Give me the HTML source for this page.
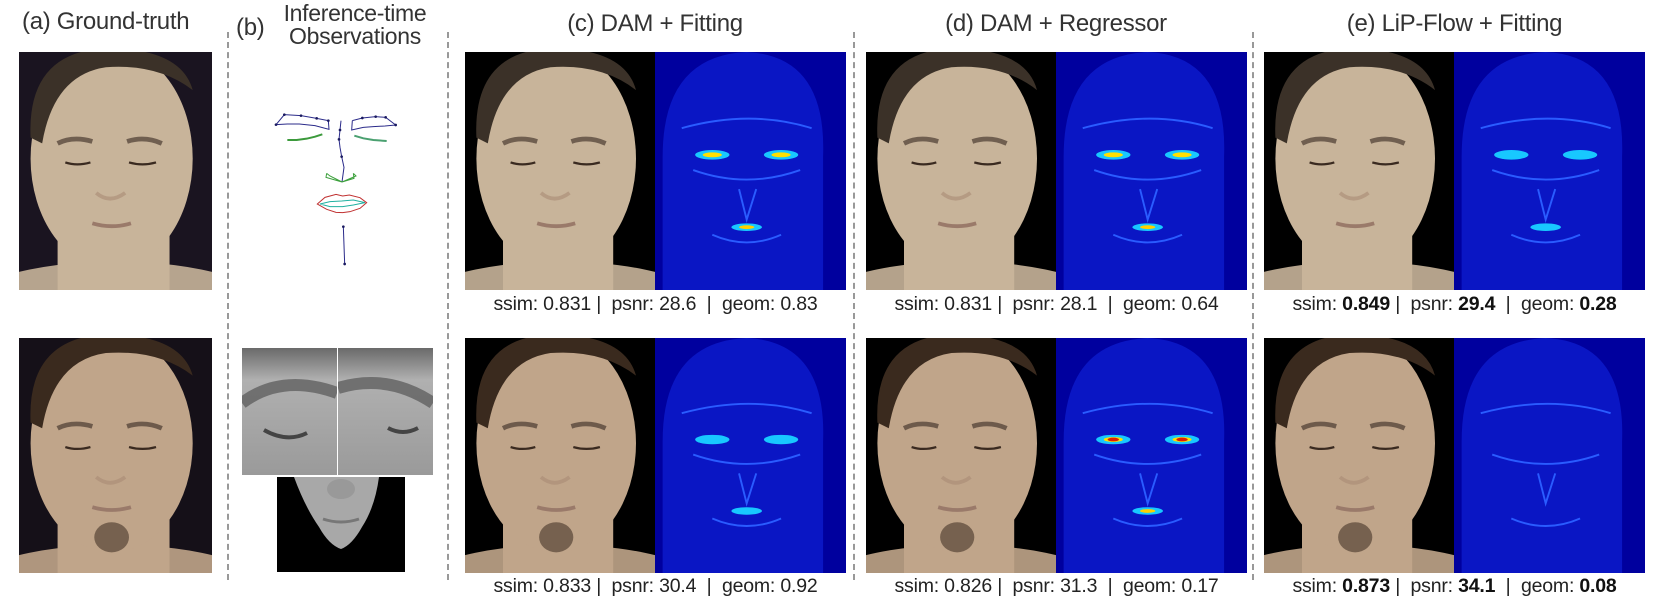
<!DOCTYPE html>
<html><head><meta charset="utf-8">
<style>
html,body{margin:0;padding:0;background:#fff;width:1659px;height:600px;overflow:hidden;}
body{position:relative;font-family:"Liberation Sans",sans-serif;color:#222;}
.title{position:absolute;font-size:24px;white-space:nowrap;color:#333;letter-spacing:-0.3px;}
.dash{position:absolute;width:0;border-left:2px dashed #999;top:32px;height:548px;}
.cap{position:absolute;font-size:19.5px;line-height:22px;white-space:nowrap;text-align:center;color:#222;letter-spacing:-0.2px;}
.cap b{font-weight:bold;color:#111;}
svg{position:absolute;display:block;}
</style></head>
<body>
<div class="title" style="left:22px;top:8px;">(a) Ground-truth</div>
<div class="title" style="left:236px;top:14px;">(b)</div>
<div class="title" style="left:272px;top:2px;font-size:23px;line-height:23px;text-align:center;width:166px;">Inference-time<br>Observations</div>
<div class="title" style="left:465px;top:10px;width:380px;text-align:center;">(c) DAM + Fitting</div>
<div class="title" style="left:866px;top:10px;width:380px;text-align:center;">(d) DAM + Regressor</div>
<div class="title" style="left:1264px;top:10px;width:381px;text-align:center;">(e) LiP-Flow + Fitting</div>

<div class="dash" style="left:227px;"></div>
<div class="dash" style="left:447px;"></div>
<div class="dash" style="left:853px;"></div>
<div class="dash" style="left:1252px;"></div>

<div id="panels"></div>

<svg style="left:230px;top:90px;" width="220" height="190" viewBox="0 0 660 570">
<g fill="none" stroke-width="3">
<polyline stroke="#2b2b8a" points="138,104 163,74 213,77 260,85 295,92 297,118 255,107 208,102 172,102 138,104"/>
<polyline stroke="#2b2b8a" points="367,92 397,84 437,80 467,82 497,105 465,108 430,110 400,112 365,120 367,92"/>
<polyline stroke="#3c9a3c" stroke-width="6" points="172,150 200,150 230,146 255,140 277,133"/>
<polyline stroke="#4aa070" stroke-width="6" points="373,137 400,145 430,150 470,153"/>
<polyline stroke="#2b2b8a" points="333,92 330,120 327,148 330,172 335,200 342,232 336,276"/>
<polyline stroke="#3ca03c" points="290,250 300,258 336,276 288,262 290,250"/>
<polyline stroke="#3ca03c" points="370,250 378,258 336,276 372,265 370,250"/>
<polygon stroke="#c03030" points="262,342 285,322 318,313 338,318 358,315 390,323 410,338 390,355 360,365 338,368 318,367 290,358"/>
<polygon stroke="#20b0a0" points="270,342 300,335 335,333 370,330 405,338 370,345 338,350 300,350"/>
<line stroke="#2b2b8a" x1="340" y1="410" x2="344" y2="522"/>
</g>
<g fill="#1a1a60">
<circle cx="163" cy="74" r="4"/><circle cx="213" cy="77" r="4"/><circle cx="260" cy="85" r="4"/><circle cx="295" cy="92" r="4"/><circle cx="138" cy="104" r="4"/>
<circle cx="397" cy="84" r="4"/><circle cx="437" cy="80" r="4"/><circle cx="467" cy="82" r="4"/><circle cx="497" cy="105" r="4"/>
<circle cx="330" cy="120" r="4"/><circle cx="327" cy="148" r="4"/><circle cx="335" cy="200" r="4"/><circle cx="340" cy="410" r="4"/><circle cx="344" cy="522" r="4"/>
</g>
</svg>

<svg style="left:242px;top:348px;" width="95" height="127" viewBox="0 0 95 127">
<defs><linearGradient id="eg" x1="0" y1="0" x2="0" y2="1"><stop offset="0" stop-color="#6a6a6a"/><stop offset="0.25" stop-color="#b0b0b0"/><stop offset="1" stop-color="#9a9a9a"/></linearGradient></defs>
<rect width="95" height="127" fill="url(#eg)"/>
<path d="M0 55 Q40 25 95 45" stroke="#555" stroke-width="12" fill="none" opacity="0.7"/>
<path d="M22 82 Q45 95 65 85" stroke="#444" stroke-width="4" fill="none"/>
</svg>
<svg style="left:338px;top:348px;" width="95" height="127" viewBox="0 0 95 127">
<rect width="95" height="127" fill="url(#eg)"/>
<path d="M0 40 Q50 25 95 55" stroke="#555" stroke-width="12" fill="none" opacity="0.7"/>
<path d="M50 80 Q65 88 80 80" stroke="#444" stroke-width="4" fill="none"/>
</svg>
<svg style="left:277px;top:477px;" width="128" height="95" viewBox="0 0 128 95">
<rect width="128" height="95" fill="#000"/>
<path d="M17 0 L102 0 Q98 30 85 50 Q75 68 64 72 Q52 68 42 50 Q28 30 17 0Z" fill="#a8a8a8"/>
<path d="M46 42 Q64 48 82 42" stroke="#777" stroke-width="3" fill="none"/>
<ellipse cx="64" cy="12" rx="14" ry="10" fill="#999"/>
</svg>

<script>
var methods = ['ground-truth','dam-fitting','dam-regressor','lipflow-fitting'];
var ssimTop = [0.831, 0.831, 0.849];
var psnrTop = [28.6, 28.1, 29.4];
var geomTop = [0.83, 0.64, 0.28];
var ssimBot = [0.833, 0.826, 0.873];
var psnrBot = [30.4, 31.3, 34.1];
var geomBot = [0.92, 0.17, 0.08];
var heatLevel = [[2,2,1],[1,3,0]];

var colX = [465, 866, 1264];
var rows = [{y:52,h:238,male:false},{y:338,h:235,male:true}];

function photoSVG(x,y,w,h,male,bg,name){
  var skin = male ? '#c0a58a' : '#c8b49a';
  var hair = male ? '#3a2a1e' : '#3b3128';
  var s = '<svg style="left:'+x+'px;top:'+y+'px;" width="'+w+'" height="'+h+'" viewBox="0 0 100 125" preserveAspectRatio="none">';
  s += '<rect width="100" height="125" fill="'+bg+'"/>';
  s += '<ellipse cx="50" cy="135" rx="80" ry="25" fill="'+skin+'" opacity="0.9"/>';
  s += '<rect x="20" y="85" width="58" height="40" fill="'+skin+'"/>';
  s += '<ellipse cx="48" cy="56" rx="42" ry="58" fill="'+skin+'"/>';
  s += '<path d="M6 45 Q4 0 45 -2 Q84 -2 90 20 Q72 6 45 8 Q18 12 12 48 Z" fill="'+hair+'"/>';
  s += '<path d="M20 48 Q28 44 38 47 M56 47 Q65 44 74 48" stroke="#4a3a30" stroke-width="2.5" fill="none" opacity="0.7"/>';
  s += '<path d="M24 58 Q30 60 37 58 M57 58 Q64 60 71 58" stroke="#3a2a20" stroke-width="1.2" fill="none"/>';
  s += '<path d="M40 74 Q47 80 55 74" stroke="#a88a74" stroke-width="2" fill="none" opacity="0.6"/>';
  s += '<path d="M38 90 Q48 93 58 90" stroke="#9a7a6a" stroke-width="2" fill="none"/>';
  if(male) s += '<ellipse cx="48" cy="106" rx="9" ry="8" fill="#6e5a48" opacity="0.9"/>';
  s += '</svg>';
  return s;
}
function heatSVG(x,y,w,h,lvl,name){
  var s = '<svg style="left:'+x+'px;top:'+y+'px;" width="'+w+'" height="'+h+'" viewBox="0 0 100 125" preserveAspectRatio="none">';
  s += '<rect width="100" height="125" fill="#00009e"/>';
  s += '<path d="M4 125 L4 55 Q4 2 48 0 Q90 2 88 55 L88 125 Z" fill="#0a16c4"/>';
  s += '<path d="M14 40 Q50 30 82 40 M20 62 Q48 72 76 62 M44 72 L48 88 L53 72 M30 96 Q48 104 66 96" stroke="#2a5cff" stroke-width="1" fill="none"/>';
  if(lvl>0){
    s += '<ellipse cx="30" cy="54" rx="9" ry="2.5" fill="#18c8ff"/><ellipse cx="66" cy="54" rx="9" ry="2.5" fill="#18c8ff"/>';
    s += '<ellipse cx="48" cy="92" rx="8" ry="2" fill="#18c8ff"/>';
  }
  if(lvl>1){
    s += '<ellipse cx="30" cy="54" rx="5" ry="1.3" fill="#ffe000"/><ellipse cx="66" cy="54" rx="5" ry="1.3" fill="#ffe000"/>';
    s += '<ellipse cx="48" cy="92" rx="4" ry="1" fill="#ffd000"/>';
  }
  if(lvl>2){
    s += '<ellipse cx="30" cy="54" rx="3" ry="1" fill="#e02000"/><ellipse cx="66" cy="54" rx="3" ry="1" fill="#e02000"/>';
  }
  s += '</svg>';
  return s;
}
function fmt(v,d){return v.toFixed(d);}
var html = '';
html += photoSVG(19,52,193,238,false,'#1a1420','gt-photo-top');
html += photoSVG(19,338,193,235,true,'#151018','gt-photo-bottom');
var ssimArr=[ssimTop,ssimBot], psnrArr=[psnrTop,psnrBot], geomArr=[geomTop,geomBot];
for(var r=0;r<2;r++){
  for(var c=0;c<3;c++){
    var x=colX[c], row=rows[r];
    html += photoSVG(x,row.y,190,row.h,row.male,'#000',methods[c+1]+'-photo-'+(r?'bottom':'top'));
    html += heatSVG(x+190,row.y,191,row.h,heatLevel[r][c],methods[c+1]+'-error-map-'+(r?'bottom':'top'));
    var bold = (c===2);
    var ss=fmt(ssimArr[r][c],3), ps=fmt(psnrArr[r][c],1), ge=fmt(geomArr[r][c],2);
    if(bold){ss='<b>'+ss+'</b>';ps='<b>'+ps+'</b>';ge='<b>'+ge+'</b>';}
    var cy = r ? 575 : 293;
    html += '<div class="cap" style="left:'+x+'px;top:'+cy+'px;width:381px;">ssim: '+ss+' |&nbsp; psnr: '+ps+' &nbsp;|&nbsp; geom: '+ge+'</div>';
  }
}
document.getElementById('panels').innerHTML = html;
</script>
</body></html>
